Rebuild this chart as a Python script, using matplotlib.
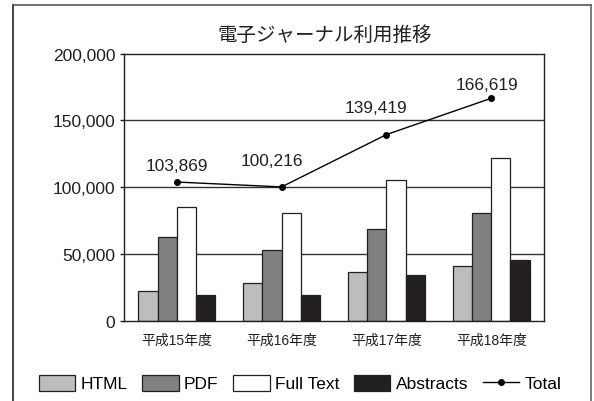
import matplotlib
matplotlib.use("Agg")
import matplotlib.pyplot as plt
from matplotlib.lines import Line2D
import numpy as np

plt.rcParams['font.family'] = ['Liberation Sans', 'Noto Sans CJK JP', 'DejaVu Sans']

# Data
title = "電子ジャーナル利用推移"
years = ["平成15年度", "平成16年度", "平成17年度", "平成18年度"]
html = [22500, 28500, 36800, 41300]
pdf = [62500, 53000, 68800, 80300]
full_text = [85000, 81000, 105500, 121600]
abstracts = [19000, 19200, 34000, 45500]
total = [103869, 100216, 139419, 166619]
y_ticks = [0, 50000, 100000, 150000, 200000]

series = [
    ("HTML", html, "#bcbdbf"),
    ("PDF", pdf, "#7f8081"),
    ("Full Text", full_text, "#ffffff"),
    ("Abstracts", abstracts, "#231f20"),
]

W, H = 594, 402
fig = plt.figure(figsize=(W / 100, H / 100), dpi=100)
ax = fig.add_axes([124.3 / W, 1 - 321.7 / H, (543.7 - 124.3) / W, (321.7 - 54.7) / H])

edge = "#231f20"
x = np.arange(len(years))
bw = 0.183
offsets = [-1.5, -0.5, 0.5, 1.5]

# horizontal grid lines behind the bars
for yv in y_ticks[1:-1]:
    ax.axhline(yv, color="#333333", lw=1.0, zorder=1)

handles = []
for (name, vals, col), off in zip(series, offsets):
    b = ax.bar(x + off * bw, vals, width=bw, color=col, edgecolor=edge,
               linewidth=0.9, zorder=2, label=name)
    handles.append(b)

line, = ax.plot(x, total, color="black", lw=1.0, marker="o", markersize=4,
                zorder=4, label="Total")
handles.append(line)

# value labels above the total markers
label_offsets = [(0, 17), (-10, 26), (-10, 27), (-4, 14)]
for xi, v, (dx, dy) in zip(x, total, label_offsets):
    ax.annotate(f"{v:,}", (xi, v), xytext=(dx, dy), textcoords="offset pixels",
                ha="center", va="center", fontsize=12.4, color="#231f20")

ax.set_xlim(-0.5, len(years) - 0.5)
ax.set_ylim(0, 200000)
ax.set_yticks(y_ticks)
ax.set_yticklabels([f"{v:,}" for v in y_ticks])
ax.set_xticks(x)
ax.set_xticklabels(years)
ax.tick_params(axis="y", length=3, width=1, color=edge, pad=3.5,
               labelsize=12.5, labelcolor="#231f20")
ax.tick_params(axis="x", length=0, pad=9, labelsize=10, labelcolor="#231f20")
for s in ax.spines.values():
    s.set_color(edge)
    s.set_linewidth(1.0)

fig.text(325 / W, 1 - 36 / H, title, ha="center", va="center", fontsize=14,
         color="#231f20")

fig.legend(handles=handles, labels=[s[0] for s in series] + ["Total"],
           loc="center", bbox_to_anchor=(300 / W, 1 - 384 / H), ncol=5,
           frameon=False, fontsize=12.5, handlelength=2.1, handleheight=1.05,
           handletextpad=0.3, columnspacing=0.85, borderpad=0)

# open frame around the figure
fx0, fx1, fy1 = 12.7 / W, 590.7 / W, 1 - 6 / H
fig.add_artist(Line2D([fx0, fx0], [0, fy1], transform=fig.transFigure,
                      color="#231f20", lw=1.2))
fig.add_artist(Line2D([fx0, fx1], [fy1, fy1], transform=fig.transFigure,
                      color="#555555", lw=1.2))
fig.add_artist(Line2D([fx1, fx1], [0, fy1], transform=fig.transFigure,
                      color="#666666", lw=1.2))

fig.savefig("out.png", dpi=100)
